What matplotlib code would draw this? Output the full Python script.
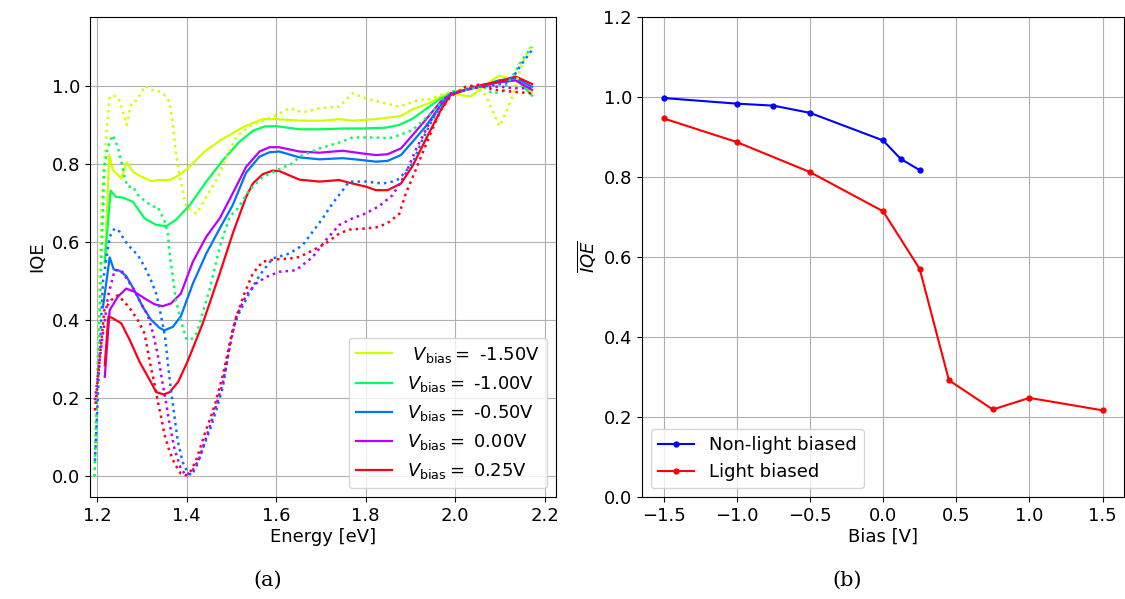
import matplotlib
matplotlib.use("Agg")
import matplotlib.pyplot as plt
from matplotlib import cm

plt.rcParams['font.size'] = 13

# ---------------- (a) IQE vs energy ----------------
bias_labels = [" $V_{\\mathrm{bias}} = $ -1.50V", "$V_{\\mathrm{bias}} = $ -1.00V",
               "$V_{\\mathrm{bias}} = $ -0.50V", "$V_{\\mathrm{bias}} = $ 0.00V",
               "$V_{\\mathrm{bias}} = $ 0.25V"]
cmap_pos = [0.2, 0.4, 0.6, 0.8, 1.0]

# solid curves
E_s_m150 = [1.217, 1.227, 1.235, 1.254, 1.266, 1.280, 1.295, 1.321, 1.336, 1.362, 1.381, 1.403, 1.440,
            1.477, 1.529, 1.570, 1.600, 1.652, 1.704, 1.741, 1.771, 1.823, 1.879, 1.905, 1.942, 1.968,
            1.990, 2.009, 2.035, 2.068, 2.098, 2.135, 2.172]
Q_s_m150 = [0.546, 0.823, 0.785, 0.763, 0.804, 0.780, 0.770, 0.756, 0.759, 0.759, 0.770, 0.789, 0.832,
            0.862, 0.896, 0.915, 0.915, 0.911, 0.911, 0.915, 0.911, 0.915, 0.923, 0.940, 0.956, 0.973,
            0.981, 0.977, 0.973, 1.003, 1.026, 1.015, 0.983]

E_s_m100 = [1.217, 1.230, 1.242, 1.258, 1.280, 1.306, 1.332, 1.355, 1.377, 1.407, 1.444, 1.481, 1.518,
            1.548, 1.574, 1.600, 1.652, 1.704, 1.749, 1.793, 1.845, 1.875, 1.905, 1.934, 1.968, 1.990,
            2.024, 2.061, 2.098, 2.135, 2.172]
Q_s_m100 = [0.550, 0.732, 0.716, 0.714, 0.703, 0.661, 0.644, 0.641, 0.658, 0.695, 0.755, 0.810, 0.857,
            0.885, 0.896, 0.897, 0.889, 0.889, 0.891, 0.891, 0.893, 0.900, 0.916, 0.940, 0.968, 0.978,
            0.990, 1.000, 1.014, 1.020, 0.975]

E_s_m050 = [1.213, 1.228, 1.237, 1.250, 1.265, 1.283, 1.302, 1.320, 1.339, 1.350, 1.369, 1.387, 1.414,
            1.444, 1.474, 1.503, 1.533, 1.563, 1.585, 1.607, 1.652, 1.697, 1.749, 1.793, 1.823, 1.849,
            1.879, 1.905, 1.934, 1.968, 1.990, 2.024, 2.061, 2.098, 2.135, 2.172]
Q_s_m050 = [0.434, 0.561, 0.530, 0.527, 0.513, 0.477, 0.434, 0.402, 0.381, 0.374, 0.383, 0.410, 0.494,
            0.571, 0.635, 0.695, 0.778, 0.819, 0.830, 0.832, 0.817, 0.812, 0.815, 0.810, 0.806, 0.808,
            0.823, 0.857, 0.896, 0.951, 0.977, 0.990, 1.000, 1.014, 1.020, 0.998]

E_s_000 = [1.217, 1.228, 1.246, 1.265, 1.283, 1.306, 1.328, 1.346, 1.365, 1.387, 1.414, 1.444, 1.474,
           1.503, 1.533, 1.563, 1.585, 1.607, 1.652, 1.697, 1.749, 1.793, 1.823, 1.849, 1.879, 1.905,
           1.934, 1.968, 1.990, 2.024, 2.061, 2.098, 2.135, 2.172]
Q_s_000 = [0.255, 0.426, 0.460, 0.481, 0.473, 0.456, 0.441, 0.436, 0.443, 0.468, 0.550, 0.614, 0.661,
           0.725, 0.793, 0.832, 0.843, 0.843, 0.832, 0.829, 0.834, 0.827, 0.823, 0.825, 0.840, 0.874,
           0.913, 0.960, 0.979, 0.990, 1.000, 1.009, 1.014, 0.990]

E_s_025 = [1.217, 1.225, 1.232, 1.254, 1.273, 1.295, 1.318, 1.332, 1.349, 1.362, 1.381, 1.403, 1.436,
           1.474, 1.503, 1.533, 1.548, 1.570, 1.592, 1.607, 1.652, 1.697, 1.741, 1.771, 1.801, 1.823,
           1.849, 1.879, 1.905, 1.934, 1.968, 1.990, 2.024, 2.061, 2.098, 2.135, 2.172]
Q_s_025 = [0.285, 0.409, 0.407, 0.392, 0.349, 0.293, 0.246, 0.216, 0.210, 0.216, 0.242, 0.297, 0.392,
           0.520, 0.622, 0.716, 0.750, 0.774, 0.783, 0.782, 0.760, 0.755, 0.759, 0.750, 0.742, 0.733,
           0.733, 0.750, 0.795, 0.862, 0.938, 0.977, 0.990, 1.003, 1.011, 1.024, 1.005]

# dotted curves
E_d_m150 = [1.194, 1.210, 1.220, 1.228, 1.237, 1.248, 1.257, 1.266, 1.276, 1.287, 1.298, 1.307, 1.320,
            1.335, 1.350, 1.361, 1.369, 1.376, 1.386, 1.399, 1.422, 1.440, 1.470, 1.489, 1.511, 1.540,
            1.563, 1.596, 1.630, 1.659, 1.697, 1.741, 1.771, 1.801, 1.838, 1.875, 1.920, 1.942, 1.979,
            2.009, 2.039, 2.053, 2.068, 2.083, 2.099, 2.113, 2.128, 2.143, 2.157, 2.172]
Q_d_m150 = [0.000, 0.708, 0.870, 0.973, 0.975, 0.968, 0.938, 0.900, 0.955, 0.962, 0.981, 1.000, 0.990,
            0.988, 0.977, 0.960, 0.904, 0.827, 0.759, 0.690, 0.673, 0.708, 0.767, 0.819, 0.870, 0.896,
            0.908, 0.923, 0.943, 0.932, 0.943, 0.947, 0.981, 0.968, 0.957, 0.947, 0.964, 0.966, 0.981,
            0.990, 0.998, 0.990, 0.977, 0.938, 0.897, 0.930, 0.973, 1.032, 1.075, 1.109]

E_d_m100 = [1.194, 1.216, 1.224, 1.235, 1.246, 1.254, 1.261, 1.268, 1.280, 1.291, 1.309, 1.324, 1.335,
            1.350, 1.358, 1.361, 1.369, 1.376, 1.387, 1.399, 1.410, 1.422, 1.429, 1.451, 1.474, 1.496,
            1.514, 1.540, 1.570, 1.600, 1.637, 1.652, 1.697, 1.741, 1.771, 1.816, 1.853, 1.875, 1.905,
            1.934, 1.964, 1.990, 2.024, 2.061, 2.083, 2.105, 2.128, 2.150, 2.172]
Q_d_m100 = [0.000, 0.793, 0.844, 0.874, 0.844, 0.806, 0.767, 0.742, 0.742, 0.721, 0.703, 0.691, 0.691,
            0.656, 0.622, 0.579, 0.511, 0.451, 0.400, 0.353, 0.350, 0.366, 0.392, 0.477, 0.588, 0.665,
            0.686, 0.733, 0.767, 0.783, 0.802, 0.819, 0.840, 0.855, 0.868, 0.868, 0.866, 0.874, 0.887,
            0.917, 0.951, 0.985, 0.990, 1.000, 0.981, 0.985, 1.024, 1.067, 1.100]

E_d_m050 = [1.195, 1.213, 1.220, 1.228, 1.239, 1.250, 1.261, 1.276, 1.291, 1.306, 1.320, 1.332, 1.339,
            1.346, 1.352, 1.358, 1.365, 1.373, 1.380, 1.391, 1.402, 1.411, 1.421, 1.432, 1.443, 1.454,
            1.465, 1.481, 1.503, 1.518, 1.540, 1.563, 1.592, 1.630, 1.659, 1.682, 1.704, 1.726, 1.749,
            1.763, 1.801, 1.838, 1.860, 1.875, 1.905, 1.927, 1.949, 1.972, 1.990, 2.024, 2.039, 2.080,
            2.113, 2.135, 2.150, 2.172]
Q_d_m050 = [0.040, 0.500, 0.554, 0.614, 0.635, 0.627, 0.605, 0.584, 0.567, 0.537, 0.503, 0.468, 0.434,
            0.392, 0.357, 0.289, 0.221, 0.152, 0.092, 0.037, 0.011, 0.003, 0.024, 0.058, 0.092, 0.126,
            0.165, 0.229, 0.380, 0.420, 0.470, 0.515, 0.558, 0.571, 0.592, 0.627, 0.661, 0.699, 0.733,
            0.755, 0.755, 0.750, 0.755, 0.762, 0.802, 0.862, 0.913, 0.956, 0.981, 0.990, 0.998, 1.000,
            1.007, 1.032, 1.058, 1.092]

E_d_000 = [1.195, 1.209, 1.224, 1.239, 1.254, 1.268, 1.283, 1.298, 1.313, 1.324, 1.332, 1.339, 1.346,
           1.354, 1.361, 1.373, 1.387, 1.399, 1.413, 1.428, 1.439, 1.454, 1.465, 1.481, 1.496, 1.511,
           1.533, 1.555, 1.578, 1.607, 1.644, 1.682, 1.711, 1.741, 1.771, 1.801, 1.830, 1.860, 1.890,
           1.912, 1.942, 1.968, 1.990, 2.024, 2.061, 2.098, 2.135, 2.172]
Q_d_000 = [0.195, 0.330, 0.460, 0.528, 0.528, 0.503, 0.477, 0.443, 0.413, 0.370, 0.330, 0.290, 0.240,
           0.190, 0.140, 0.070, 0.020, 0.003, 0.015, 0.045, 0.084, 0.135, 0.178, 0.240, 0.330, 0.409,
           0.464, 0.494, 0.511, 0.524, 0.528, 0.562, 0.605, 0.644, 0.661, 0.674, 0.692, 0.720, 0.776,
           0.836, 0.904, 0.951, 0.981, 0.990, 0.998, 0.998, 0.994, 0.994]

E_d_025 = [1.195, 1.216, 1.231, 1.246, 1.261, 1.276, 1.291, 1.306, 1.313, 1.320, 1.328, 1.335, 1.343,
           1.350, 1.361, 1.373, 1.387, 1.399, 1.410, 1.421, 1.432, 1.443, 1.454, 1.465, 1.481, 1.496,
           1.511, 1.529, 1.548, 1.570, 1.600, 1.630, 1.652, 1.682, 1.711, 1.741, 1.763, 1.801, 1.830,
           1.853, 1.875, 1.890, 1.912, 1.942, 1.968, 1.990, 2.024, 2.053, 2.083, 2.128, 2.172]
Q_d_025 = [0.169, 0.426, 0.451, 0.464, 0.447, 0.426, 0.400, 0.366, 0.323, 0.280, 0.238, 0.195, 0.152,
           0.109, 0.067, 0.033, 0.007, 0.003, 0.015, 0.041, 0.079, 0.118, 0.152, 0.191, 0.260, 0.340,
           0.409, 0.468, 0.520, 0.550, 0.556, 0.558, 0.562, 0.579, 0.597, 0.622, 0.632, 0.635, 0.639,
           0.652, 0.672, 0.725, 0.785, 0.870, 0.938, 0.973, 0.998, 1.003, 0.991, 0.985, 0.981]

solid_E = [E_s_m150, E_s_m100, E_s_m050, E_s_000, E_s_025]
solid_Q = [Q_s_m150, Q_s_m100, Q_s_m050, Q_s_000, Q_s_025]
dot_E = [E_d_m150, E_d_m100, E_d_m050, E_d_000, E_d_025]
dot_Q = [Q_d_m150, Q_d_m100, Q_d_m050, Q_d_000, Q_d_025]

# ---------------- (b) mean IQE vs bias ----------------
bias_nl = [-1.5, -1.0, -0.75, -0.5, 0.0, 0.12, 0.25]
iqe_nl = [0.997, 0.983, 0.978, 0.960, 0.891, 0.845, 0.817]
bias_l = [-1.5, -1.0, -0.5, 0.0, 0.25, 0.45, 0.75, 1.0, 1.5]
iqe_l = [0.946, 0.887, 0.812, 0.714, 0.570, 0.292, 0.219, 0.248, 0.217]

fig = plt.figure(figsize=(11.25, 5.99), dpi=100)
ax1 = fig.add_axes([0.080, 0.170, 0.414, 0.802])
ax2 = fig.add_axes([0.5705, 0.170, 0.4290, 0.802])

colors = [cm.hsv(p) for p in cmap_pos]
for i in range(5):
    ax1.plot(solid_E[i], solid_Q[i], '-', color=colors[i], lw=1.6, label=bias_labels[i])
for i in range(5):
    ax1.plot(dot_E[i], dot_Q[i], ':', color=colors[i], lw=1.8)

ax1.set_xlim(1.184, 2.225)
ax1.set_ylim(-0.053, 1.177)
ax1.set_xticks([1.2, 1.4, 1.6, 1.8, 2.0, 2.2])
ax1.set_yticks([0.0, 0.2, 0.4, 0.6, 0.8, 1.0])
ax1.grid(True)
ax1.set_xlabel("Energy [eV]", labelpad=2)
ax1.set_ylabel("IQE")
ax1.legend(loc='lower right', fontsize=13, handlelength=2.0)

ax2.plot(bias_nl, iqe_nl, '.-', color='b', lw=1.5, ms=7, label='Non-light biased')
ax2.plot(bias_l, iqe_l, '.-', color='r', lw=1.5, ms=7, label='Light biased')
ax2.set_xlim(-1.65, 1.65)
ax2.set_ylim(0.0, 1.2)
ax2.set_xticks([-1.5, -1.0, -0.5, 0.0, 0.5, 1.0, 1.5])
ax2.set_yticks([0.0, 0.2, 0.4, 0.6, 0.8, 1.0, 1.2])
ax2.grid(True)
ax2.set_xlabel("Bias [V]", labelpad=2)
ax2.set_ylabel("$\\overline{IQE}$")
ax2.legend(loc='lower left', fontsize=13)

fig.text(0.238, 0.032, "(a)", ha='center', va='center', fontsize=15, family='DejaVu Serif')
fig.text(0.753, 0.032, "(b)", ha='center', va='center', fontsize=15, family='DejaVu Serif')

fig.savefig("out.png", dpi=100)
